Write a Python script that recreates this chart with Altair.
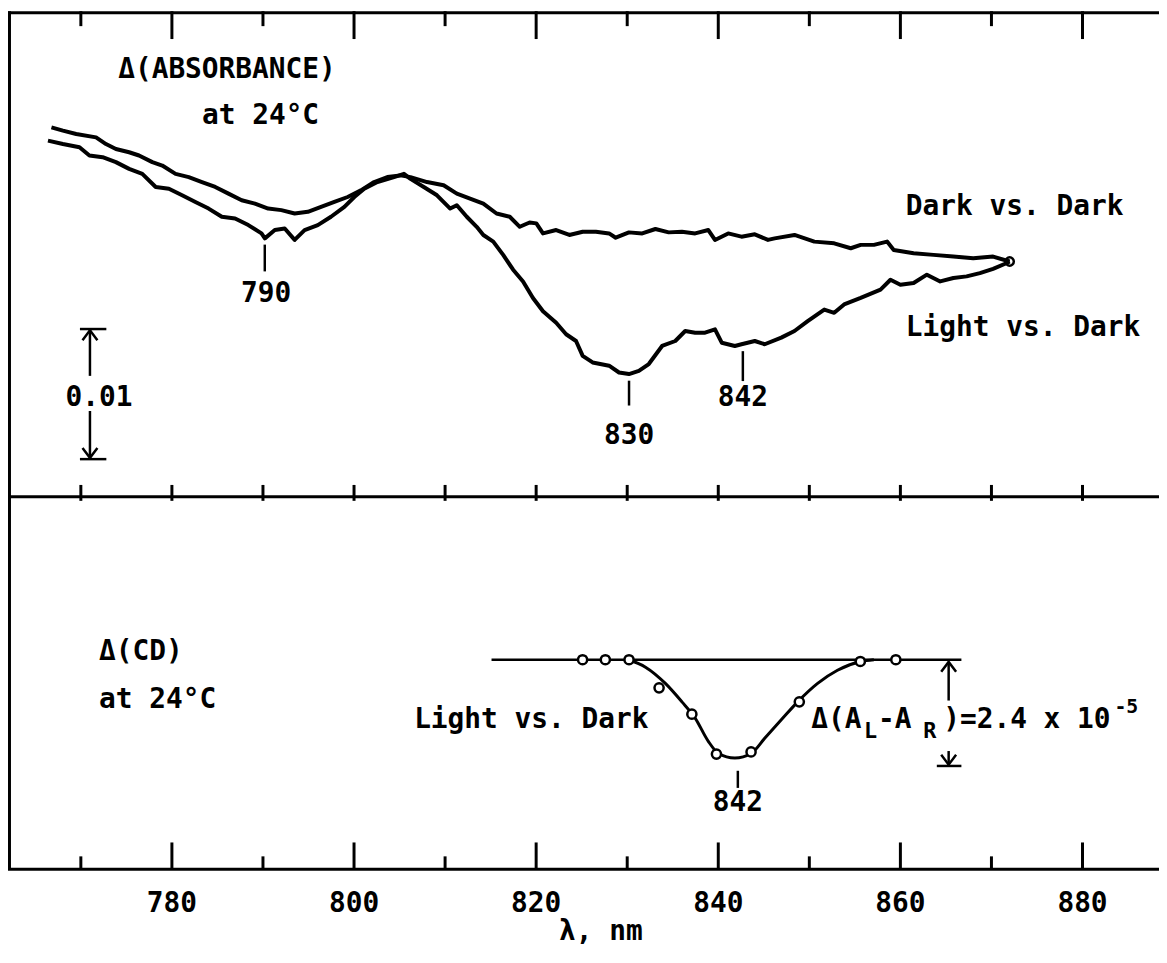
import altair as alt
import pandas as pd

# ---------------- data ----------------
# Top panel: Delta absorbance traces, values in units of 0.001 absorbance (relative)
dark_nm = [766.77, 768.03, 769.49, 771.67, 772.76, 773.85, 775.30, 776.39, 777.85, 778.94,
           780.40, 781.85, 783.30, 784.76, 786.21, 787.66, 789.12, 790.57, 792.02, 793.48,
           794.93, 796.38, 797.84, 799.30, 800.75, 802.21, 803.66, 805.11, 806.20, 808.02,
           809.84, 811.29, 812.74, 814.20, 815.65, 817.10, 818.20, 819.28, 820.02, 820.75,
           822.20, 823.65, 825.11, 826.56, 828.01, 828.74, 830.19, 831.65, 833.10, 834.55,
           836.01, 837.46, 838.91, 839.64, 841.09, 842.55, 844.01, 845.46, 846.19, 848.37,
           850.55, 852.73, 854.55, 855.64, 857.09, 858.54, 859.27, 861.45, 863.64, 865.82,
           868.00, 870.18, 872.00]
dark_val = [28.40, 28.15, 27.89, 27.63, 27.12, 26.74, 26.49, 26.24, 25.73, 25.47,
            24.83, 24.58, 24.20, 23.82, 23.31, 22.80, 22.54, 22.16, 22.04, 21.78,
            21.91, 22.29, 22.67, 23.05, 23.56, 24.20, 24.58, 24.71, 24.58, 24.20,
            23.95, 23.31, 22.92, 22.54, 21.78, 21.53, 20.76, 21.09, 21.02, 20.25,
            20.51, 20.13, 20.38, 20.38, 20.25, 19.92, 20.33, 20.25, 20.59, 20.33,
            20.38, 20.25, 20.51, 19.75, 20.25, 20.00, 20.18, 19.75, 19.87, 20.13,
            19.62, 19.49, 19.11, 19.37, 19.37, 19.62, 18.98, 18.73, 18.60, 18.47,
            18.34, 18.47, 18.09]

light_nm = [766.39, 768.03, 769.85, 770.94, 772.39, 773.85, 775.30, 776.75, 778.22, 779.67,
            781.12, 782.58, 784.03, 785.48, 786.94, 788.39, 789.84, 790.21, 791.30, 792.39,
            793.48, 794.57, 796.02, 797.47, 798.94, 800.03, 801.12, 802.57, 804.39, 805.48,
            806.20, 807.66, 809.11, 810.56, 811.29, 812.38, 813.47, 814.20, 815.29, 816.38,
            817.47, 818.56, 819.65, 820.75, 822.20, 823.29, 824.38, 825.11, 826.20, 828.01,
            829.10, 830.19, 831.28, 832.37, 833.83, 835.28, 836.37, 837.46, 838.55, 839.64,
            840.38, 841.82, 842.55, 844.01, 845.10, 846.92, 848.37, 849.82, 851.64, 852.73,
            853.82, 855.64, 857.82, 858.91, 860.00, 861.45, 862.91, 864.37, 865.82, 867.27,
            868.73, 870.18, 871.63, 872.00]
light_val = [27.38, 27.12, 26.87, 26.24, 26.11, 25.73, 25.21, 24.83, 23.82, 23.69,
             23.18, 22.67, 22.16, 21.53, 21.40, 20.89, 20.25, 19.87, 20.51, 20.63,
             19.75, 20.51, 20.89, 21.53, 22.29, 23.05, 23.69, 24.20, 24.58, 24.83,
             24.44, 23.82, 23.18, 22.16, 22.42, 21.53, 20.76, 20.13, 19.62, 18.60,
             17.46, 16.56, 15.29, 14.27, 13.38, 12.50, 11.98, 10.84, 10.33, 10.08,
             9.56, 9.44, 9.69, 10.21, 11.60, 11.98, 12.75, 12.62, 12.62, 12.88,
             11.85, 11.60, 11.73, 11.98, 11.73, 12.24, 12.75, 13.51, 14.40, 14.15,
             14.79, 15.29, 15.93, 16.69, 16.31, 16.44, 17.08, 16.56, 16.82, 16.95,
             17.20, 17.53, 17.96, 18.09]

# Bottom panel: Delta CD (units of 1e-5)
cd_pts_nm = [825.1, 827.6, 830.2, 833.5, 837.1, 839.8, 843.6, 848.9, 855.6, 859.5]
cd_pts_val = [0.0, 0.0, 0.0, -0.64, -1.24, -2.15, -2.10, -0.96, -0.04, 0.0]
cd_fit_nm = [830.19, 832.01, 834.19, 836.01, 837.46, 838.91, 840.00, 841.82,
             843.64, 845.10, 846.92, 848.72, 850.91, 853.09, 855.64, 857.09]
cd_fit_val = [0.0, -0.17, -0.54, -0.96, -1.33, -1.86, -2.13, -2.24,
              -2.13, -1.79, -1.37, -0.96, -0.54, -0.24, -0.04, 0.0]
cd_base_nm = [815.1, 866.7]
cd_base_val = [0.0, 0.0]
cd_amplitude = [0.0, -2.42]

major_ticks = [780, 800, 820, 840, 860, 880]
minor_ticks = [770, 790, 810, 830, 850, 870]
x_title = "λ, nm"

# annotation anchors (data units): (text, nm, value, align)
top_texts = [("Δ(ABSORBANCE)", 774.1, 32.8, "left"), ("at 24°C", 783.3, 29.3, "left"),
             ("790", 790.35, 15.6, "center"), ("830", 830.2, 4.7, "center"),
             ("842", 842.7, 7.56, "center"),
             ("Dark vs. Dark", 860.6, 22.3, "left"), ("Light vs. Dark", 860.6, 12.98, "left"),
             ("0.01", 772.0, 7.63, "center")]
top_marks = [(790.2, 19.39, 17.33), (830.2, 8.93, 7.02), (842.7, 11.2, 8.9)]
scale_bar = {"x": 771.0, "x0": 769.9, "x1": 772.8, "top": 12.9, "bot": 2.9,
             "gap_top": 9.3, "gap_bot": 6.6}
bot_texts = [("Δ(CD)", 772.0, 0.18, "left"), ("at 24°C", 772.0, -0.93, "left"),
             ("Light vs. Dark", 806.6, -1.37, "left"), ("842", 842.15, -3.26, "center")]
bot_marks = [(842.15, -2.53, -2.92)]
ampl_pieces = [("Δ(A", 850.22, -1.38, 28), ("L", 856.0, -1.63, 22), ("-A", 857.53, -1.38, 28),
               ("R", 862.5, -1.63, 22), (")=2.4 x 10", 864.7, -1.38, 28), ("-5", 883.5, -1.08, 20)]
ampl_arrow = {"x": 865.3, "x0": 864.0, "x1": 866.7, "gap_top": -0.93, "gap_bot": -2.08}

# ---------------- layout ----------------
W = 1159
H_TOP = 489
H_BOT = 375
H = H_TOP + H_BOT
FONT = "DejaVu Sans Mono"
WEIGHT = "bold"
LW = 3

xs = alt.Scale(domain=[762, 888.4], nice=False, zero=False)
# both panels share one view; each has its own vertical scale
ys_top = alt.Scale(domain=[-H_BOT / 13.1, H_TOP / 13.1], nice=False, zero=False)
ys_bot = alt.Scale(domain=[-(H_BOT - 164) / 44.2, (H_TOP + 164) / 44.2], nice=False, zero=False)

one = pd.DataFrame({"k": [0]})


def pos(x, y, ys):
    return dict(x=alt.XDatum(x, scale=xs, axis=None), y=alt.YDatum(y, scale=ys, axis=None))


def txt(s, x, y, ys, size=28, align="center", baseline="middle"):
    return alt.Chart(one).mark_text(text=s, font=FONT, fontSize=size, fontWeight=WEIGHT,
                                    align=align, baseline=baseline,
                                    color="black").encode(**pos(x, y, ys))


def seg(x1, y1, x2, y2, ys, w=2.5):
    return alt.Chart(one).mark_rule(color="black", strokeWidth=w).encode(
        x=alt.XDatum(x1, scale=xs, axis=None), x2=alt.X2Datum(x2),
        y=alt.YDatum(y1, scale=ys, axis=None), y2=alt.Y2Datum(y2))


def head(x, y, ys, up=True):
    path = "M-0.75,1L0,0L0.75,1" if up else "M-0.75,-1L0,0L0.75,-1"
    return alt.Chart(one).mark_point(shape=path, size=400, filled=False, color="black",
                                     strokeWidth=2.5, opacity=1).encode(**pos(x, y, ys))


def tick_rules(vals, y0, y1, w=LW):
    return alt.Chart(pd.DataFrame({"t": vals})).mark_rule(color="black", strokeWidth=w).encode(
        x=alt.X("t:Q", scale=xs, axis=None), y=alt.value(y0), y2=alt.value(y1))


def frame_line(x0, y0, x1, y1, w=LW):
    return alt.Chart(one).mark_rule(color="black", strokeWidth=w).encode(
        x=alt.value(x0), x2=alt.value(x1), y=alt.value(y0), y2=alt.value(y1))


def trace(nm, val, ys, w, interp="linear"):
    df = pd.DataFrame({"nm": nm, "v": val, "i": range(len(nm))})
    return alt.Chart(df).mark_line(color="black", strokeWidth=w, interpolate=interp,
                                   strokeJoin="round").encode(
        x=alt.X("nm:Q", scale=xs, axis=None), y=alt.Y("v:Q", scale=ys, axis=None), order="i:Q")


layers = [
    # frame: left, top, divider, bottom (no right edge, as in the original)
    frame_line(1.5, 0, 1.5, H),
    frame_line(0, 1.5, W, 1.5),
    frame_line(0, H_TOP, W, H_TOP),
    frame_line(0, H, W, H),
    # frame ticks
    tick_rules(major_ticks, 0, 28),
    tick_rules(minor_ticks, 0, 15),
    tick_rules(major_ticks + minor_ticks, H_TOP - 12, H_TOP + 4),
    tick_rules(major_ticks, H - 27, H),
    tick_rules(minor_ticks, H - 13, H),
    # x tick labels and title
    alt.Chart(pd.DataFrame({"t": major_ticks})).mark_text(
        font=FONT, fontSize=28, fontWeight=WEIGHT, color="black", baseline="middle").encode(
        x=alt.X("t:Q", scale=xs, axis=None), y=alt.value(H + 35), text="t:Q"),
    alt.Chart(pd.DataFrame({"t": [x_title]})).mark_text(
        font=FONT, fontSize=28, fontWeight=WEIGHT, color="black", baseline="middle").encode(
        x=alt.XDatum(827.1, scale=xs, axis=None), y=alt.value(H + 63), text="t:N"),
    # top panel traces
    trace(dark_nm, dark_val, ys_top, 4),
    trace(light_nm, light_val, ys_top, 4),
    alt.Chart(pd.DataFrame({"nm": [dark_nm[-1]], "v": [dark_val[-1]]})).mark_point(
        shape="circle", size=70, filled=False, color="black", strokeWidth=2.5, opacity=1).encode(
        x=alt.X("nm:Q", scale=xs, axis=None), y=alt.Y("v:Q", scale=ys_top, axis=None)),
]
for s, x, y, al in top_texts:
    layers.append(txt(s, x, y, ys_top, align=al))
for x, y0, y1 in top_marks:
    layers.append(seg(x, y0, x, y1, ys_top))
sb = scale_bar
layers += [
    seg(sb["x0"], sb["top"], sb["x1"], sb["top"], ys_top),
    seg(sb["x0"], sb["bot"], sb["x1"], sb["bot"], ys_top),
    seg(sb["x"], sb["top"], sb["x"], sb["gap_top"], ys_top),
    seg(sb["x"], sb["gap_bot"], sb["x"], sb["bot"], ys_top),
    head(sb["x"], sb["top"] - 0.1, ys_top, up=True),
    head(sb["x"], sb["bot"] + 0.1, ys_top, up=False),
]

# bottom panel
layers += [
    trace(cd_base_nm, cd_base_val, ys_bot, 2.5),
    trace(cd_fit_nm, cd_fit_val, ys_bot, 3, interp="monotone"),
    alt.Chart(pd.DataFrame({"nm": cd_pts_nm, "v": cd_pts_val})).mark_point(
        shape="circle", size=85, filled=False, fill="white", fillOpacity=1, stroke="black",
        strokeWidth=2.5, opacity=1).encode(
        x=alt.X("nm:Q", scale=xs, axis=None), y=alt.Y("v:Q", scale=ys_bot, axis=None)),
]
for s, x, y, al in bot_texts:
    layers.append(txt(s, x, y, ys_bot, align=al))
for x, y0, y1 in bot_marks:
    layers.append(seg(x, y0, x, y1, ys_bot))
for s, x, y, fs in ampl_pieces:
    layers.append(txt(s, x, y, ys_bot, size=fs, align="left"))
aa = ampl_arrow
layers += [
    seg(aa["x"], cd_amplitude[0] - 0.05, aa["x"], aa["gap_top"], ys_bot),
    seg(aa["x"], aa["gap_bot"], aa["x"], cd_amplitude[1], ys_bot),
    seg(aa["x0"], cd_amplitude[1], aa["x1"], cd_amplitude[1], ys_bot),
    head(aa["x"], cd_amplitude[0] - 0.05, ys_bot, up=True),
    head(aa["x"], cd_amplitude[1] + 0.03, ys_bot, up=False),
]

chart = alt.layer(*layers).resolve_scale(y="independent").properties(
    width=W, height=H, background="white",
    autosize=alt.AutoSizeParams(type="none"),
    padding={"left": 0, "top": 0, "right": 0, "bottom": 74}).configure_view(strokeWidth=0)

chart.save("out.html", embed_options={"renderer": "svg", "actions": False})
